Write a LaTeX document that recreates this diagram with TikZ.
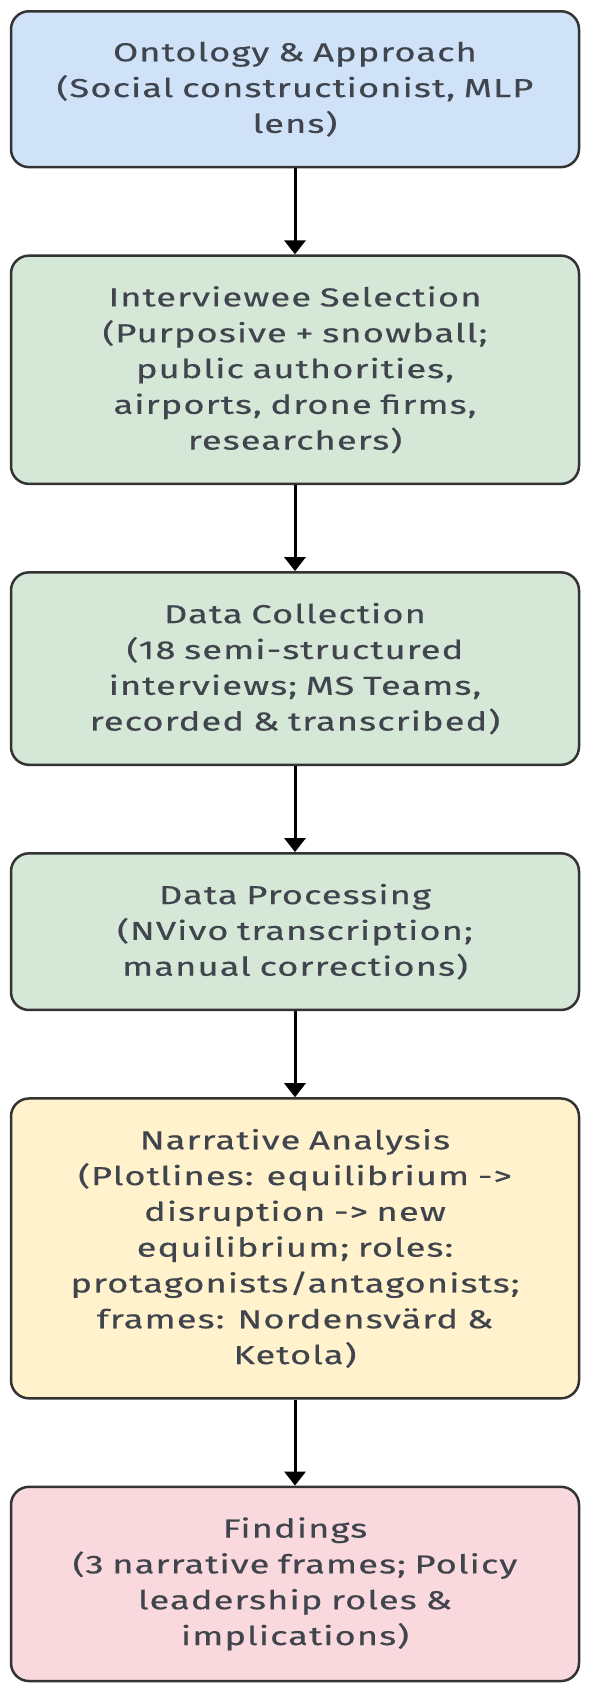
\documentclass[tikz,border=0pt]{standalone}
\usepackage{fontspec}
\setmainfont{Fira Sans}[FakeStretch=1.4, LetterSpace=4, FakeBold=0.4]
\usepackage{tikz}
\usetikzlibrary{positioning,arrows.meta}
\definecolor{ontoblue}{HTML}{CFE2F8}
\definecolor{stepgreen}{HTML}{D5E8D8}
\definecolor{analysisyellow}{HTML}{FFF2CC}
\definecolor{findpink}{HTML}{F9D9DD}
\definecolor{boxline}{HTML}{333333}
\definecolor{boxtext}{HTML}{40454D}

\begin{document}
\begin{tikzpicture}[
    x=1pt, y=1pt,
    node distance=86pt,
    stage/.style={rectangle, rounded corners=18pt, draw=boxline, line width=2.5pt, text width=556pt, minimum width=568pt, align=center, inner ysep=30.5pt, text=boxtext, font=\fontsize{26}{35.8}\selectfont},
    arrow/.style={-{Triangle[width=21pt,length=14pt]}, line width=3pt}
]
    \useasboundingbox (0,0) rectangle (590,-1692);
    \node[stage, fill=ontoblue, below=0pt of {(295,-10)}] (onto) {Ontology \& Approach\\ (Social constructionist, MLP\\ lens)};
    \node[stage, fill=stepgreen, below=of onto] (select) {Interviewee Selection\\ (Purposive + snowball;\\ public authorities,\\ airports, drone firms,\\ researchers)};
    \node[stage, fill=stepgreen, below=of select] (collect) {Data Collection\\ (18 semi-structured\\ interviews; MS Teams,\\ recorded \& transcribed)};
    \node[stage, fill=stepgreen, below=of collect] (process) {Data Processing\\ (NVivo transcription;\\ manual corrections)};
    \node[stage, fill=analysisyellow, below=of process] (analysis) {Narrative Analysis\\ (Plotlines: equilibrium ->\\ disruption -> new\\ equilibrium; roles:\\ protagonists/antagonists;\\ frames: Nordensvärd \&\\ Ketola)};
    \node[stage, fill=findpink, below=of analysis] (findings) {Findings\\ (3 narrative frames; Policy\\ leadership roles \&\\ implications)};

    \draw[arrow] (onto) -- (select);
    \draw[arrow] (select) -- (collect);
    \draw[arrow] (collect) -- (process);
    \draw[arrow] (process) -- (analysis);
    \draw[arrow] (analysis) -- (findings);
\end{tikzpicture}
\end{document}
